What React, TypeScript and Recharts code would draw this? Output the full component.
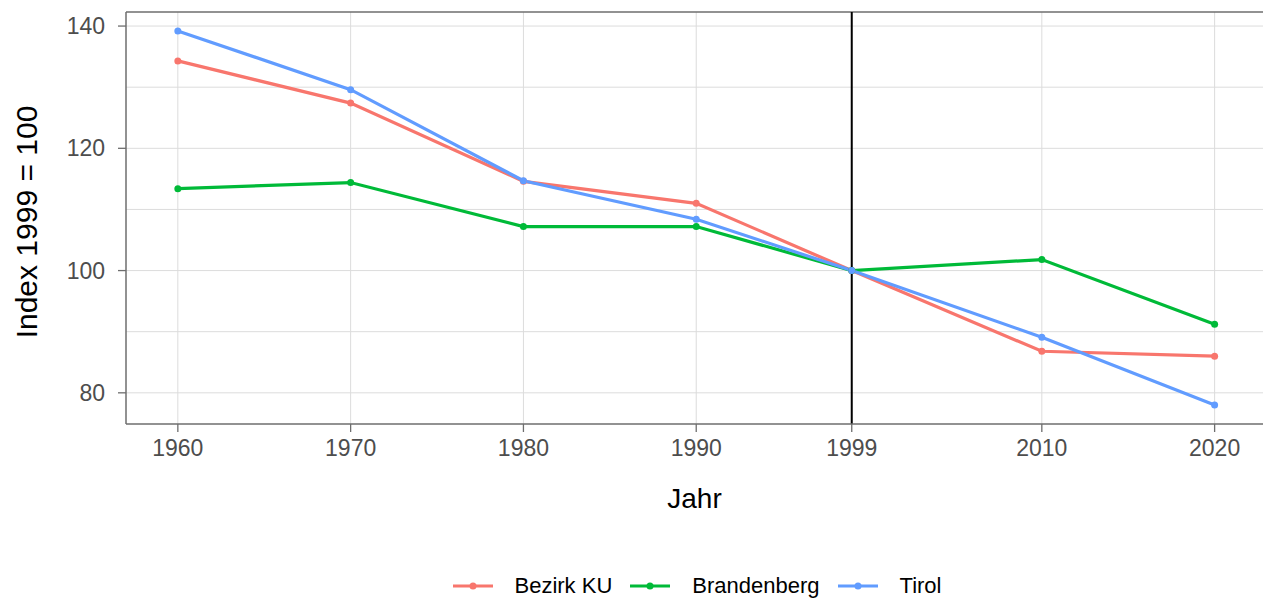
import React from 'react';
import { LineChart, Line, XAxis, YAxis, CartesianGrid, ReferenceLine, Legend, Label } from 'recharts';

const years = [1960, 1970, 1980, 1990, 1999, 2010, 2020];
const bezirkKU = [134.3, 127.4, 114.6, 111.0, 100, 86.8, 86.0];
const brandenberg = [113.4, 114.4, 107.2, 107.2, 100, 101.8, 91.2];
const tirol = [139.2, 129.6, 114.7, 108.4, 100, 89.1, 78.0];
const yTicks = [80, 100, 120, 140];
const yGrid = [80, 90, 100, 110, 120, 130, 140];

const series = [
  { key: 'bezirkKU', name: 'Bezirk KU', color: '#F8766D' },
  { key: 'brandenberg', name: 'Brandenberg', color: '#00BA38' },
  { key: 'tirol', name: 'Tirol', color: '#619CFF' },
];

const data = years.map((y, i) => ({
  year: y,
  bezirkKU: bezirkKU[i],
  brandenberg: brandenberg[i],
  tirol: tirol[i],
}));

const FONT = '"Liberation Sans", Arial, sans-serif';
const AXIS = '#6e6e6e';
const X_DOMAIN: [number, number] = [1957, 2022.8];
const Y_DOMAIN: [number, number] = [74.9, 142.3];

const LegendContent = () => (
  <div
    style={{
      display: 'flex',
      justifyContent: 'center',
      alignItems: 'center',
      height: 24,
      fontFamily: FONT,
      fontSize: 22,
      color: '#000',
      paddingLeft: 23,
    }}
  >
    {series.map((s) => (
      <div key={s.key} style={{ display: 'flex', alignItems: 'center', marginRight: 18 }}>
        <svg width={40} height={12} style={{ marginRight: 22 }}>
          <line x1={0} y1={6} x2={40} y2={6} stroke={s.color} strokeWidth={3.2} />
          <circle cx={20} cy={6} r={3.5} fill={s.color} />
        </svg>
        <span>{s.name}</span>
      </div>
    ))}
  </div>
);

export default function App() {
  return (
    <div style={{ position: 'absolute', left: 0, top: 0 }}>
      <LineChart
        width={1263}
        height={598}
        data={data}
        margin={{ top: 12, right: 0, bottom: 0, left: 0 }}
      >
        <CartesianGrid
          stroke="#dcdcdc"
          strokeWidth={1}
          horizontalValues={yGrid}
          verticalValues={years}
        />
        <XAxis
          dataKey="year"
          type="number"
          domain={X_DOMAIN}
          allowDataOverflow
          ticks={years}
          interval={0}
          height={150}
          tickSize={8}
          tickMargin={8}
          tick={{ fill: '#4d4d4d', fontSize: 23, fontFamily: FONT }}
          tickLine={{ stroke: AXIS, strokeWidth: 1.3 }}
          axisLine={{ stroke: AXIS, strokeWidth: 1.5 }}
        >
          <Label
            content={(props: any) => {
              const vb = props.viewBox;
              return (
                <text
                  x={vb.x + vb.width / 2}
                  y={vb.y + 84}
                  textAnchor="middle"
                  fontSize={28}
                  fontFamily={FONT}
                  fill="#000"
                >
                  Jahr
                </text>
              );
            }}
          />
        </XAxis>
        <YAxis
          type="number"
          domain={Y_DOMAIN}
          allowDataOverflow
          ticks={yTicks}
          interval={0}
          width={126}
          tickSize={8}
          tickMargin={13}
          tick={{ fill: '#4d4d4d', fontSize: 23, fontFamily: FONT }}
          tickLine={{ stroke: AXIS, strokeWidth: 1.3 }}
          axisLine={{ stroke: AXIS, strokeWidth: 1.5 }}
        >
          <Label
            content={(props: any) => {
              const vb = props.viewBox;
              const cx = 26;
              const cy = vb.y + vb.height / 2 + 4;
              return (
                <text
                  x={cx}
                  y={cy}
                  transform={`rotate(-90 ${cx} ${cy})`}
                  textAnchor="middle"
                  dominantBaseline="central"
                  fontSize={30}
                  fontFamily={FONT}
                  fill="#000"
                >
                  Index 1999 = 100
                </text>
              );
            }}
          />
        </YAxis>
        <ReferenceLine y={Y_DOMAIN[1]} stroke={AXIS} strokeWidth={1.5} ifOverflow="visible" />
        <ReferenceLine x={1999} stroke="#000" strokeWidth={2} />
        {series.map((s) => (
          <Line
            key={s.key}
            type="linear"
            dataKey={s.key}
            name={s.name}
            stroke={s.color}
            strokeWidth={3.2}
            dot={{ r: 3.5, fill: s.color, stroke: s.color, strokeWidth: 0 }}
            activeDot={false}
            isAnimationActive={false}
          />
        ))}
        <Legend
          verticalAlign="bottom"
          content={<LegendContent />}
          wrapperStyle={{ left: 126, width: 1137, bottom: 0 }}
        />
      </LineChart>
    </div>
  );
}
